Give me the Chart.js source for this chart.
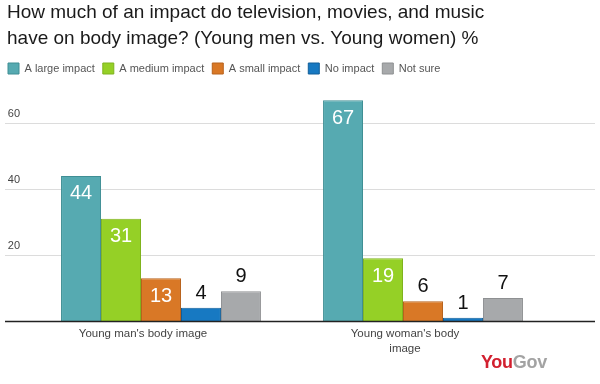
<!DOCTYPE html>
<html>
<head>
<meta charset="utf-8">
<script src="https://cdn.jsdelivr.net/npm/chart.js@4/dist/chart.umd.min.js"></script>
<style>
html,body{margin:0;padding:0;background:#fff;}
#wrap{position:relative;width:600px;height:384px;}
#title{position:absolute;left:7px;top:-1px;font:19px "Liberation Sans",Arial,sans-serif;line-height:26px;color:#1a1a1a;white-space:nowrap;}
#logo{position:absolute;left:481px;top:352px;font:bold 18px "Liberation Sans",Arial,sans-serif;letter-spacing:-0.3px;}
#logo .a{color:#d2202f;}
#logo .b{color:#a3a3a3;}
</style>
</head>
<body>
<div id="wrap">
<canvas id="c" width="600" height="384"></canvas>
<div id="title"></div>
<div id="logo"><span class="a">You</span><span class="b">Gov</span></div>
</div>
<script>
const titleLines = ["How much of an impact do television, movies, and music", "have on body image? (Young men vs. Young women) %"];
const categories = [["Young man's body image"], ["Young woman's body", "image"]];
const seriesNames = ["A large impact", "A medium impact", "A small impact", "No impact", "Not sure"];
const largeImpact = [44, 67];
const mediumImpact = [31, 19];
const smallImpact = [13, 6];
const noImpact = [4, 1];
const notSure = [9, 7];
const yTicks = [20, 40, 60];
const fillColors = ["#56aab1", "#95d026", "#d97826", "#1779c2", "#a7a9ab"];
const borderColors = ["#3f8e94", "#7fb31e", "#b8621c", "#125f99", "#8e9092"];

const seriesValues = [largeImpact, mediumImpact, smallImpact, noImpact, notSure];
const FONT = '"Liberation Sans", Arial, sans-serif';

document.getElementById('title').innerHTML = titleLines.map(t => t.replace(/&/g,'&amp;').replace(/</g,'&lt;')).join('<br>');

const gridPlugin = {
  id: 'fullGrid',
  beforeDatasetsDraw(chart) {
    const ctx = chart.ctx, y = chart.scales.y;
    ctx.save();
    ctx.strokeStyle = '#dcdcdc';
    ctx.lineWidth = 1;
    yTicks.forEach(v => {
      const py = Math.round(y.getPixelForValue(v)) + 0.5;
      ctx.beginPath(); ctx.moveTo(5, py); ctx.lineTo(595, py); ctx.stroke();
    });
    ctx.restore();
  },
  afterDatasetsDraw(chart) {
    const ctx = chart.ctx, y = chart.scales.y;
    ctx.save();
    ctx.strokeStyle = '#222';
    ctx.lineWidth = 1.5;
    const py = y.getPixelForValue(0) + 0.5;
    ctx.beginPath(); ctx.moveTo(5, py); ctx.lineTo(595, py); ctx.stroke();
    ctx.font = '20px ' + FONT;
    ctx.textAlign = 'center';
    ctx.textBaseline = 'alphabetic';
    chart.data.datasets.forEach((ds, di) => {
      const meta = chart.getDatasetMeta(di);
      meta.data.forEach((el, i) => {
        const v = ds.data[i];
        if (v >= 10) {
          ctx.fillStyle = '#ffffff';
          ctx.fillText(String(v), el.x, el.y + 23.5);
        } else {
          ctx.fillStyle = '#111111';
          ctx.fillText(String(v), el.x, el.y - 9);
        }
      });
    });
    ctx.restore();
  }
};

new Chart(document.getElementById('c'), {
  type: 'bar',
  data: {
    labels: categories,
    datasets: seriesNames.map((n, i) => ({
      label: n,
      data: seriesValues[i],
      backgroundColor: fillColors[i],
      borderColor: borderColors[i],
      borderWidth: 1,
      categoryPercentage: 0.763,
      barPercentage: 1.0
    }))
  },
  options: {
    responsive: false,
    animation: false,
    layout: { padding: { left: 0, right: 46, top: 55, bottom: 0 } },
    plugins: {
      title: { display: false },
      legend: {
        display: true,
        align: 'start',
        labels: {
          boxWidth: 11,
          boxHeight: 11,
          padding: 8,
          color: '#555',
          font: { family: FONT, size: 11 }
        }
      },
      tooltip: { enabled: false }
    },
    scales: {
      x: {
        grid: { display: false, drawTicks: false },
        border: { display: false },
        ticks: { color: '#444', font: { family: FONT, size: 11.5, lineHeight: 1.35 }, padding: 5, labelOffset: -18, maxRotation: 0, autoSkip: false },
        afterFit(s) { s.height = 63; }
      },
      y: {
        min: 0,
        max: 71.9,
        grid: { display: false, drawTicks: false },
        border: { display: false },
        afterBuildTicks(s) { s.ticks = yTicks.map(v => ({ value: v })); },
        ticks: { color: '#444', font: { family: FONT, size: 11 }, crossAlign: 'near', labelOffset: -9, padding: 10 },
        afterFit(s) { s.width = 30; }
      }
    }
  },
  plugins: [gridPlugin]
});
</script>
</body>
</html>
